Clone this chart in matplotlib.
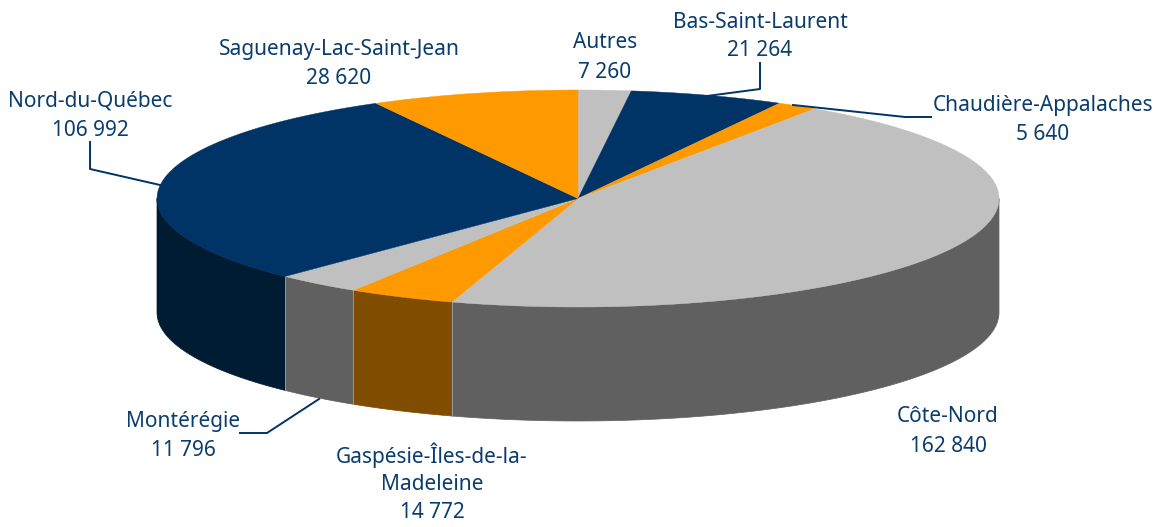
import numpy as np
import matplotlib
matplotlib.use("Agg")
import matplotlib.pyplot as plt
from matplotlib.patches import Polygon

regions = ["Autres", "Bas-Saint-Laurent", "Chaudière-Appalaches", "Côte-Nord",
           "Gaspésie-Îles-de-la-Madeleine", "Montérégie", "Nord-du-Québec",
           "Saguenay-Lac-Saint-Jean"]
values = [7260, 21264, 5640, 162840, 14772, 11796, 106992, 28620]
value_labels = ["7 260", "21 264", "5 640", "162 840", "14 772", "11 796", "106 992", "28 620"]
top_colors = ["#C0C0C0", "#003366", "#FF9900", "#C0C0C0", "#FF9900", "#C0C0C0", "#003366", "#FF9900"]
wall_colors = ["#606060", "#001C33", "#804D00", "#606060", "#804D00", "#606060", "#001C33", "#804D00"]

CX, CY, RX, RY, DEPTH = 578, 198.5, 421, 108.5, 114
TEXT = "#0A3C6E"

plt.rcParams["font.family"] = ["Noto Sans", "DejaVu Sans"]
fig = plt.figure(figsize=(11.64, 5.27), dpi=100)
ax = fig.add_axes([0, 0, 1, 1])
ax.set_xlim(0, 1164)
ax.set_ylim(527, 0)
ax.axis("off")

edges = np.cumsum([0] + values) / sum(values) * 2 * np.pi


def arc(a, b, dy=0):
    t = np.linspace(a, b, max(int((b - a) * 120), 2))
    return np.column_stack([CX + RX * np.sin(t), CY + dy - RY * np.cos(t)])


# Front walls: visible only between 90 and 270 degrees clockwise from the top
for a, b, c in zip(edges[:-1], edges[1:], wall_colors):
    lo, hi = max(a, np.pi / 2), min(b, 3 * np.pi / 2)
    if hi > lo:
        pts = np.vstack([arc(lo, hi), arc(lo, hi, DEPTH)[::-1]])
        ax.add_patch(Polygon(pts, closed=True, fc=c, ec=c, lw=0.5, zorder=2))

# Thin light seams between wall segments
for e in edges:
    if np.pi / 2 < e < 3 * np.pi / 2:
        p = arc(e, e + 1e-6)[0]
        ax.plot([p[0], p[0]], [p[1], p[1] + DEPTH], color="#989898", lw=0.7, zorder=2.5)

for a, b, c in zip(edges[:-1], edges[1:], top_colors):
    pts = np.vstack([[CX, CY], arc(a, b)])
    ax.add_patch(Polygon(pts, closed=True, fc=c, ec=c, lw=0.3, zorder=3))

# Leader lines
leaders = [
    [(707, 96), (760, 89), (760, 63)],
    [(793, 105), (905, 117), (931, 117)],
    [(160, 185), (90, 169), (90, 142)],
    [(319, 399), (267, 433), (240, 433)],
]
for line in leaders:
    xs, ys = zip(*line)
    ax.plot(xs, ys, color="#003366", lw=1.4, zorder=4)

label_pos = {
    "Autres": (605, 43),
    "Bas-Saint-Laurent": (760, 22),
    "Chaudière-Appalaches": (1043, 106),
    "Côte-Nord": (948, 417),
    "Montérégie": (183, 422),
    "Nord-du-Québec": (90, 101),
    "Saguenay-Lac-Saint-Jean": (339, 49),
}
FS = 15
for name, val in zip(regions, value_labels):
    if name in label_pos:
        x, y = label_pos[name]
        ax.text(x, y, name, ha="center", va="center", color=TEXT, fontsize=FS)
        ax.text(x, y + 29, val, ha="center", va="center", color=TEXT, fontsize=FS)
    else:
        a, b = name.rsplit("-", 1)
        ax.text(432, 455, a + "-", ha="center", va="center", color=TEXT, fontsize=FS)
        ax.text(432, 484, b, ha="center", va="center", color=TEXT, fontsize=FS)
        ax.text(432, 512, val, ha="center", va="center", color=TEXT, fontsize=FS)

fig.savefig("out.png", dpi=100, facecolor="white")
